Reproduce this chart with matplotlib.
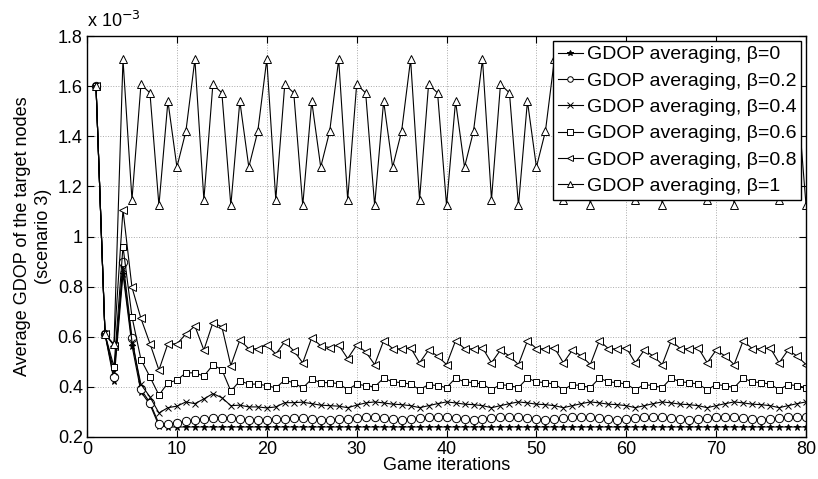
import matplotlib
matplotlib.use("Agg")
import matplotlib.pyplot as plt

plt.rcParams['font.family'] = ['Liberation Sans', 'DejaVu Sans']

# game iterations 1..80, values in units of 1e-3
iterations = list(range(1, 81))

gdop_b0 = [1.6, 0.61, 0.425, 0.85, 0.565, 0.38, 0.33, 0.245,
           0.24, 0.24, 0.24, 0.24, 0.24, 0.24, 0.24, 0.24,
           0.24, 0.24, 0.24, 0.24, 0.24, 0.24, 0.24, 0.24,
           0.24, 0.24, 0.24, 0.24, 0.24, 0.24, 0.24, 0.24,
           0.24, 0.24, 0.24, 0.24, 0.24, 0.24, 0.24, 0.24,
           0.24, 0.24, 0.24, 0.24, 0.24, 0.24, 0.24, 0.24,
           0.24, 0.24, 0.24, 0.24, 0.24, 0.24, 0.24, 0.24,
           0.24, 0.24, 0.24, 0.24, 0.24, 0.24, 0.24, 0.24,
           0.24, 0.24, 0.24, 0.24, 0.24, 0.24, 0.24, 0.24,
           0.24, 0.24, 0.24, 0.24, 0.24, 0.24, 0.24, 0.24]

gdop_b02 = [1.6, 0.61, 0.44, 0.90, 0.597, 0.39, 0.337, 0.253,
            0.251, 0.256, 0.264, 0.267, 0.273, 0.276, 0.276, 0.275,
            0.272, 0.267, 0.267, 0.267, 0.273, 0.273, 0.276, 0.276,
            0.273, 0.269, 0.269, 0.271, 0.271, 0.277, 0.28, 0.28,
            0.277, 0.271, 0.269, 0.271, 0.276, 0.28, 0.28, 0.28,
            0.277, 0.271, 0.269, 0.271, 0.276, 0.28, 0.28, 0.28,
            0.277, 0.271, 0.269, 0.271, 0.276, 0.28, 0.28, 0.28,
            0.277, 0.271, 0.269, 0.271, 0.276, 0.28, 0.28, 0.28,
            0.277, 0.271, 0.269, 0.271, 0.276, 0.28, 0.28, 0.28,
            0.277, 0.271, 0.269, 0.271, 0.276, 0.28, 0.28, 0.28]

gdop_b04 = [1.6, 0.61, 0.46, 0.87, 0.58, 0.41, 0.36, 0.296,
            0.317, 0.323, 0.34, 0.333, 0.352, 0.373, 0.357, 0.325,
            0.327, 0.32, 0.32, 0.316, 0.32, 0.337, 0.337, 0.339,
            0.333, 0.327, 0.325, 0.323, 0.317, 0.327, 0.336, 0.34,
            0.336, 0.331, 0.329, 0.325, 0.317, 0.325, 0.333, 0.34,
            0.336, 0.331, 0.329, 0.325, 0.317, 0.325, 0.333, 0.34,
            0.336, 0.331, 0.329, 0.325, 0.317, 0.325, 0.333, 0.34,
            0.336, 0.331, 0.329, 0.325, 0.317, 0.325, 0.333, 0.34,
            0.336, 0.331, 0.329, 0.325, 0.317, 0.325, 0.333, 0.34,
            0.336, 0.331, 0.329, 0.325, 0.317, 0.325, 0.333, 0.34]

gdop_b06 = [1.6, 0.61, 0.48, 0.96, 0.68, 0.509, 0.44, 0.367,
            0.416, 0.427, 0.456, 0.456, 0.443, 0.487, 0.469, 0.383,
            0.424, 0.411, 0.411, 0.405, 0.396, 0.427, 0.416, 0.396,
            0.431, 0.417, 0.417, 0.413, 0.389, 0.411, 0.405, 0.40,
            0.435, 0.42, 0.417, 0.411, 0.389, 0.409, 0.405, 0.397,
            0.435, 0.42, 0.417, 0.411, 0.389, 0.409, 0.405, 0.397,
            0.435, 0.42, 0.417, 0.411, 0.389, 0.409, 0.405, 0.397,
            0.435, 0.42, 0.417, 0.411, 0.389, 0.409, 0.405, 0.397,
            0.435, 0.42, 0.417, 0.411, 0.389, 0.409, 0.405, 0.397,
            0.435, 0.42, 0.417, 0.411, 0.389, 0.409, 0.405, 0.397]

gdop_b08 = [1.6, 0.61, 0.565, 1.107, 0.797, 0.673, 0.573, 0.467,
            0.573, 0.571, 0.611, 0.643, 0.547, 0.656, 0.64, 0.485,
            0.587, 0.552, 0.552, 0.567, 0.531, 0.58, 0.544, 0.496,
            0.596, 0.564, 0.557, 0.567, 0.513, 0.567, 0.54, 0.489,
            0.584, 0.553, 0.551, 0.556, 0.496, 0.547, 0.523, 0.489,
            0.584, 0.553, 0.551, 0.556, 0.496, 0.547, 0.523, 0.489,
            0.584, 0.553, 0.551, 0.556, 0.496, 0.547, 0.523, 0.489,
            0.584, 0.553, 0.551, 0.556, 0.496, 0.547, 0.523, 0.489,
            0.584, 0.553, 0.551, 0.556, 0.496, 0.547, 0.523, 0.489,
            0.584, 0.553, 0.551, 0.556, 0.496, 0.547, 0.523, 0.489]

gdop_b1 = [1.6, 0.61, 0.57,
           1.707, 1.147, 1.607, 1.573, 1.124, 1.54, 1.277, 1.42,
           1.707, 1.147, 1.607, 1.573, 1.124, 1.54, 1.277, 1.42,
           1.707, 1.147, 1.607, 1.573, 1.124, 1.54, 1.277, 1.42,
           1.707, 1.147, 1.607, 1.573, 1.124, 1.54, 1.277, 1.42,
           1.707, 1.147, 1.607, 1.573, 1.124, 1.54, 1.277, 1.42,
           1.707, 1.147, 1.607, 1.573, 1.124, 1.54, 1.277, 1.42,
           1.707, 1.147, 1.607, 1.573, 1.124, 1.54, 1.277, 1.42,
           1.707, 1.147, 1.607, 1.573, 1.124, 1.54, 1.277, 1.42,
           1.707, 1.147, 1.607, 1.573, 1.124, 1.54, 1.277, 1.42,
           1.707, 1.147, 1.607, 1.573, 1.124]

series = [gdop_b0, gdop_b02, gdop_b04, gdop_b06, gdop_b08, gdop_b1]
labels = ["GDOP averaging, \u03b2=0", "GDOP averaging, \u03b2=0.2",
          "GDOP averaging, \u03b2=0.4", "GDOP averaging, \u03b2=0.6",
          "GDOP averaging, \u03b2=0.8", "GDOP averaging, \u03b2=1"]
markers = ['*', 'o', 'x', 's', '<', '^']
msizes = [5, 6, 4.5, 4.5, 6, 6]

fig = plt.figure(figsize=(8.18, 4.79), dpi=100)
ax = fig.add_axes([0.1064, 0.0877, 0.879, 0.8371])

for vals, lab, m, ms in zip(series, labels, markers, msizes):
    face = 'k' if m == '*' else 'white'
    ax.plot(iterations, vals, color='k', linewidth=0.8, marker=m, markersize=ms,
            markerfacecolor=face, markeredgecolor='k', markeredgewidth=0.7, label=lab)

ax.set_xlim(0, 80)
ax.set_ylim(0.2, 1.8)
ax.set_xticks(range(0, 81, 10))
ax.set_yticks([0.2, 0.4, 0.6, 0.8, 1.0, 1.2, 1.4, 1.6, 1.8])
ax.set_yticklabels(['0.2', '0.4', '0.6', '0.8', '1', '1.2', '1.4', '1.6', '1.8'])
ax.tick_params(direction='in', length=5, width=0.8, top=True, right=True, labelsize=13, pad=3)
ax.grid(True, linestyle=':', color='#aaaaaa', linewidth=0.7)
for sp in ax.spines.values():
    sp.set_linewidth(1.0)

ax.set_xlabel("Game iterations", fontsize=13, labelpad=-1)
ax.set_ylabel("Average GDOP of the target nodes\n(scenario 3)", fontsize=13, labelpad=4,
              linespacing=1.35)
ax.text(0.0, 1.012, r'x 10$^{-3}$', transform=ax.transAxes, fontsize=13,
        ha='left', va='bottom')

leg = ax.legend(loc='upper right', fontsize=14, fancybox=False, framealpha=1,
                edgecolor='k', handlelength=1.3, handletextpad=0.2,
                borderaxespad=0.25, borderpad=0.25, labelspacing=0.45)
leg.get_frame().set_linewidth(1.0)
for h in leg.legend_handles:
    h.set_markersize(4)

plt.savefig("out.png", dpi=100)
